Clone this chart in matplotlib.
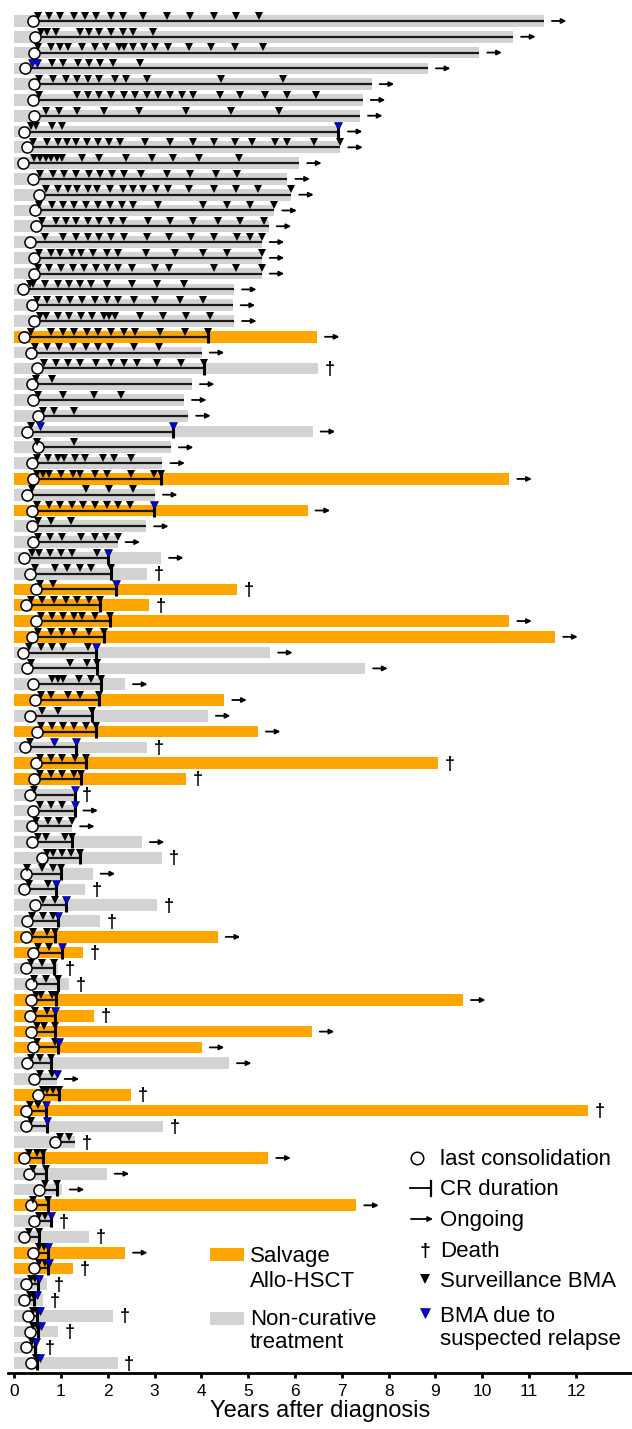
import matplotlib.pyplot as plt
from matplotlib.patches import Rectangle

plt.rcParams['font.family'] = ['Liberation Sans', 'DejaVu Sans']

# years after diagnosis at end of follow-up, one entry per patient (top to bottom)
follow_up = [11.32, 10.66, 9.94, 8.84, 7.64, 7.45, 7.39, 6.96, 6.97, 6.09,
             5.84, 5.92, 5.56, 5.44, 5.29, 5.29, 5.29, 4.70, 4.67, 4.70,
             6.47, 4.01, 6.50, 3.80, 3.63, 3.72, 6.38, 3.35, 3.17, 10.58,
             3.01, 6.27, 2.82, 2.21, 3.14, 2.84, 4.76, 2.88, 10.58, 11.56,
             5.47, 7.50, 2.37, 4.49, 4.14, 5.21, 2.84, 9.06, 3.67, 1.31,
             1.31, 1.24, 2.73, 3.16, 1.68, 1.52, 3.05, 1.84, 4.35, 1.47,
             0.93, 1.18, 9.59, 1.71, 6.36, 4.01, 4.59, 0.91, 2.50, 12.26,
             3.18, 1.30, 5.43, 1.98, 1.02, 7.31, 0.82, 1.60, 2.37, 1.25,
             0.70, 0.61, 2.11, 0.93, 0.52, 2.21]

# 1 = salvage allo-HSCT, 0 = non-curative treatment
salvage = [0] * 20 + [1] + [0] * 8 + [1, 0, 1] + [0] * 4 + [1, 1, 1, 1] + \
    [0, 0, 0, 1, 0, 1, 0, 1, 1] + [0] * 9 + [1, 1, 0, 0, 1, 1, 1, 1, 0, 0,
    1, 1, 0, 0, 1, 0, 0, 1, 0, 0, 1, 1] + [0] * 6

last_consolidation = [0.40, 0.45, 0.43, 0.23, 0.43, 0.41, 0.43, 0.21, 0.27, 0.20,
                      0.41, 0.54, 0.45, 0.47, 0.34, 0.43, 0.43, 0.18, 0.38, 0.43,
                      0.21, 0.36, 0.48, 0.39, 0.41, 0.51, 0.27, 0.51, 0.38, 0.40,
                      0.28, 0.39, 0.39, 0.40, 0.21, 0.34, 0.47, 0.25, 0.46, 0.38,
                      0.20, 0.27, 0.41, 0.45, 0.34, 0.48, 0.24, 0.46, 0.43, 0.33,
                      0.41, 0.38, 0.39, 0.59, 0.25, 0.22, 0.45, 0.28, 0.26, 0.41,
                      0.26, 0.36, 0.36, 0.34, 0.36, 0.41, 0.27, 0.43, 0.52, 0.25,
                      0.26, 0.88, 0.22, 0.32, 0.54, 0.36, 0.43, 0.21, 0.41, 0.43,
                      0.26, 0.21, 0.29, 0.33, 0.25, 0.36]

# relapse time (end of CR); None = CR ongoing at end of follow-up
relapse = [None] * 7 + [6.93] + [None] * 12 + [4.15, None, 4.06, None, None,
           None, 3.40, None, None, 3.14, None, 2.99, None, None, 2.00, 2.07,
           2.18, 1.84, 2.04, 1.93, 1.75, 1.77, 1.86, 1.82, 1.67, 1.75, 1.32,
           1.54, 1.42, 1.30, 1.30, None, 1.23, 1.41, 1.01, 0.90, 1.11, 0.93,
           0.88, 1.02, 0.85, 0.93, 0.90, 0.87, 0.88, 0.93, 0.78, None, 0.96,
           0.68, 0.70, None, 0.61, 0.68, 0.91, 0.72, 0.78, 0.54, 0.72, 0.73,
           0.52, 0.43, 0.50, 0.51, 0.45, 0.50]

# o = ongoing, d = death
outcome = ('o' * 22 + 'd' + 'o' * 12 + 'ddd' + 'o' * 8 + 'dddd' + 'ooo' + 'd' +
           'o' + 'ddd' + 'o' + 'ddd' + 'o' + 'd' + 'oooo' + 'dddd' + 'oooo' +
           'dd' + 'o' + 'ddddddd')

surveillance_bma = [
    [0.51, 0.75, 0.99, 1.28, 1.52, 1.76, 2.06, 2.32, 2.75, 3.26, 3.76, 4.27, 4.73, 5.23],
    [0.57, 0.70, 0.90, 1.40, 1.59, 1.82, 2.07, 2.32, 2.55, 2.96],
    [0.52, 0.78, 0.98, 1.16, 1.45, 1.72, 1.97, 2.25, 2.34, 2.54, 2.78, 3.02, 3.28, 3.73, 4.20, 4.71, 5.31],
    [0.81, 1.05, 1.37, 1.61, 1.84, 2.12, 2.68],
    [0.54, 0.84, 1.10, 1.34, 1.57, 1.82, 2.16, 2.39, 2.84, 4.41, 5.74],
    [0.54, 1.35, 1.57, 1.82, 2.07, 2.34, 2.59, 2.84, 3.08, 3.33, 3.58, 3.83, 4.39, 4.83, 5.35, 5.84, 6.45],
    [0.68, 0.95, 1.34, 1.92, 2.66, 3.67, 4.63, 5.66],
    [0.36, 0.46, 0.81, 1.02],
    [0.41, 0.70, 0.93, 1.13, 1.32, 1.55, 1.79, 2.02, 2.26, 2.80, 3.33, 3.82, 4.26, 4.72, 5.09, 5.58, 5.84, 6.40, 6.97],
    [0.43, 0.56, 0.68, 0.79, 0.91, 1.03, 1.45, 1.82, 2.39, 2.94, 3.40, 3.95, 4.81],
    [0.56, 0.83, 1.07, 1.32, 1.59, 1.84, 2.10, 2.35, 2.71, 3.26, 3.76, 4.32, 4.77],
    [0.68, 0.93, 1.15, 1.35, 1.57, 1.78, 2.04, 2.32, 2.53, 2.75, 3.03, 3.28, 3.74, 4.26, 4.74, 5.22, 5.92],
    [0.54, 0.81, 1.05, 1.29, 1.54, 1.79, 2.05, 2.30, 2.55, 3.07, 4.04, 4.54, 5.04, 5.56],
    [0.59, 0.89, 1.10, 1.32, 1.57, 1.82, 2.07, 2.32, 2.86, 3.32, 3.83, 4.35, 4.83, 5.33],
    [0.65, 1.05, 1.32, 1.57, 1.82, 2.07, 2.34, 2.84, 3.31, 3.78, 4.28, 4.77, 5.03, 5.29],
    [0.54, 0.78, 0.98, 1.23, 1.43, 1.68, 1.98, 2.23, 2.81, 3.44, 4.04, 4.54, 5.29],
    [0.52, 0.75, 1.00, 1.25, 1.50, 1.75, 1.99, 2.23, 2.51, 3.00, 3.30, 4.26, 4.74, 5.29],
    [0.33, 0.41, 0.65, 0.93, 1.18, 1.41, 1.65, 1.98, 2.51, 3.05, 3.64],
    [0.48, 0.71, 0.95, 1.20, 1.45, 1.73, 1.98, 2.23, 2.56, 3.01, 3.55, 4.03],
    [0.56, 0.68, 0.93, 1.18, 1.42, 1.67, 1.92, 2.02, 2.16, 2.69, 3.18, 3.68, 4.19],
    [0.36, 0.78, 1.04, 1.28, 1.55, 1.80, 2.07, 2.34, 2.59, 3.12, 3.65, 4.15],
    [0.45, 0.70, 0.95, 1.25, 1.53, 1.80, 2.05, 2.56, 3.09],
    [0.63, 0.89, 1.15, 1.40, 1.75, 2.07, 2.35, 2.62, 3.06, 3.57, 4.06],
    [0.47, 0.81],
    [0.51, 1.05, 1.71, 2.28],
    [0.61, 0.85, 1.27],
    [0.36],
    [0.50, 1.27],
    [0.48, 0.72, 0.93, 1.07, 1.31, 1.52, 1.89, 2.14, 2.50],
    [0.48, 0.61, 0.75, 1.00, 1.25, 1.41, 1.73, 1.99, 2.50, 2.99, 3.14],
    [0.39, 1.53, 2.02, 2.54],
    [0.48, 0.74, 0.98, 1.23, 1.48, 1.73, 1.98, 2.23, 2.48],
    [0.52, 0.78, 1.22],
    [0.51, 0.77, 1.02, 1.44, 1.73, 1.97, 2.21],
    [0.38, 0.54, 0.77, 1.00, 1.24, 1.77],
    [0.45, 0.88, 1.14, 1.41, 1.64, 2.07],
    [0.56, 0.83],
    [0.36, 0.60, 0.85, 1.10, 1.35, 1.60, 1.84],
    [0.58, 0.81, 1.05, 1.28, 1.46, 1.72, 2.04],
    [0.51, 0.78, 1.03, 1.28, 1.59, 1.93],
    [0.32, 0.57, 0.82, 1.05, 1.57],
    [0.36, 1.20, 1.55, 1.77],
    [0.82, 0.93, 1.05, 1.39, 1.64, 1.86],
    [0.58, 0.79, 1.16, 1.40, 1.82],
    [0.59, 0.93, 1.67],
    [0.58, 0.81, 1.04, 1.28, 1.53, 1.75],
    [0.33],
    [0.56, 0.78, 1.03, 1.30, 1.54],
    [0.56, 0.78, 1.03, 1.28, 1.42],
    [0.43],
    [0.55, 0.79, 1.02],
    [0.47, 0.73, 0.97, 1.23],
    [0.52, 0.68, 1.09, 1.23],
    [0.70, 0.84, 1.02, 1.22, 1.41],
    [0.28, 0.59, 0.84, 1.01],
    [0.31, 0.73],
    [0.61, 0.88],
    [0.38, 0.61, 0.83],
    [0.41, 0.70, 0.88],
    [0.52, 0.75],
    [0.36, 0.60, 0.85],
    [0.43, 0.68, 0.93],
    [0.47, 0.57, 0.81, 0.90],
    [0.45, 0.70],
    [0.48, 0.63, 0.88],
    [0.48, 0.88],
    [0.36, 0.56, 0.78],
    [0.56, 0.81],
    [0.61, 0.70, 0.83, 0.96],
    [0.33, 0.52],
    [0.36],
    [0.98, 1.18],
    [0.31, 0.48, 0.61],
    [0.41, 0.68],
    [0.66, 0.91],
    [0.41, 0.72],
    [0.54, 0.66],
    [0.31, 0.54],
    [0.54, 0.64],
    [0.54, 0.66],
    [0.36, 0.45],
    [0.33, 0.41],
    [0.41, 0.50],
    [0.41, 0.50],
    [0.38],
    [0.47],
]

# BMA due to suspected relapse, keyed by patient row (1-based)
suspected_bma = {4: [0.38, 0.48], 8: [6.93], 27: [0.56, 3.40], 32: [2.99],
                 35: [2.00], 37: [2.18], 41: [1.75], 47: [0.85, 1.32],
                 50: [1.30], 51: [1.30], 56: [0.90], 57: [1.11], 58: [0.93],
                 60: [1.02], 64: [0.87], 66: [0.95], 68: [0.91], 70: [0.68],
                 71: [0.70], 77: [0.78], 79: [0.73], 80: [0.75], 81: [0.54],
                 82: [0.48], 83: [0.56], 84: [0.57], 85: [0.47], 86: [0.56]}

ORANGE = '#ffa500'
GREY = '#d3d3d3'
BLUE = '#0000ee'
W, H = 632, 1429

fig = plt.figure(figsize=(W / 100, H / 100), dpi=100)
ax = fig.add_axes([8 / W, 1 - 1372.7 / H, 1 - 8 / W, (1372.7 - 11.5) / H])

n = len(follow_up)
rows = list(range(1, n + 1))
ax.barh(rows, follow_up, height=0.74, left=0,
        color=[ORANGE if s else GREY for s in salvage], zorder=1)

for i, y in enumerate(rows):
    cr_end = relapse[i] if relapse[i] is not None else follow_up[i]
    ax.plot([last_consolidation[i], cr_end], [y, y], color='#1a1a1a', lw=1.6,
            solid_capstyle='butt', zorder=2)
    if relapse[i] is not None:
        ax.plot([relapse[i], relapse[i]], [y - 0.42, y + 0.4], color='black',
                lw=2.2, solid_capstyle='butt', zorder=3)
    ax.plot(surveillance_bma[i], [y - 0.33] * len(surveillance_bma[i]), 'v',
            color='black', ms=6.2, mew=0, zorder=5)
    if y in suspected_bma:
        ax.plot(suspected_bma[y], [y - 0.33] * len(suspected_bma[y]), 'v',
                color=BLUE, mec='black', mew=0.4, ms=6.2, zorder=6)
    ax.plot(last_consolidation[i], y, 'o', mfc='white', mec='black', mew=1.1,
            ms=8, zorder=4)
    end = follow_up[i]
    if outcome[i] == 'o':
        ax.annotate('', xy=(end + 0.48, y), xytext=(end + 0.17, y),
                    arrowprops=dict(arrowstyle='-|>', color='black', lw=1.3,
                                    mutation_scale=7, shrinkA=0, shrinkB=0))
    else:
        ax.text(end + 0.25, y + 0.06, '\u2020', ha='center', va='center',
                fontsize=13, fontweight='bold')

ax.set_xlim(-0.13, 13.2)
ax.set_ylim(86.6, 0.4)
ax.set_yticks([])
ax.set_xticks(range(13))
ax.tick_params(axis='x', length=3.5, width=2, labelsize=12.5, pad=4.5)
for side in ['left', 'top', 'right']:
    ax.spines[side].set_visible(False)
ax.spines['bottom'].set_linewidth(2)
ax.set_xlabel('Years after diagnosis', fontsize=17, labelpad=1)

# legends drawn in pixel coordinates on an overlay
lg = fig.add_axes([0, 0, 1, 1])
lg.set_xlim(0, W)
lg.set_ylim(H, 0)
lg.axis('off')
lg.patch.set_alpha(0)

fs = 16
tx = 440
lg.plot(417, 1158, 'o', mfc='white', mec='black', mew=1.1, ms=9)
lg.text(tx, 1165, 'last consolidation', fontsize=fs, va='baseline')
lg.plot([410, 431], [1188, 1188], color='black', lw=1.3)
lg.plot([431, 431], [1181, 1196], color='black', lw=1.6)
lg.text(tx, 1195, 'CR duration', fontsize=fs, va='baseline')
lg.annotate('', xy=(433, 1219), xytext=(411, 1219),
            arrowprops=dict(arrowstyle='-|>', color='black', lw=1.3,
                            mutation_scale=7, shrinkA=0, shrinkB=0))
lg.text(tx, 1226, 'Ongoing', fontsize=fs, va='baseline')
lg.text(425, 1251, '\u2020', fontsize=14, fontweight='bold', ha='center', va='center')
lg.text(tx, 1257, 'Death', fontsize=fs, va='baseline')
lg.plot(425, 1279, 'v', color='black', ms=7.5, mew=0)
lg.text(tx, 1287, 'Surveillance BMA', fontsize=fs, va='baseline')
lg.plot(425, 1313, 'v', color=BLUE, mec='black', mew=0.4, ms=7.5)
lg.text(tx, 1322, 'BMA due to', fontsize=fs, va='baseline')
lg.text(tx, 1345, 'suspected relapse', fontsize=fs, va='baseline')

lg.add_patch(Rectangle((210, 1248), 34, 13, color=ORANGE, lw=0))
lg.text(250, 1262, 'Salvage', fontsize=fs, va='baseline')
lg.text(250, 1287, 'Allo-HSCT', fontsize=fs, va='baseline')
lg.add_patch(Rectangle((210, 1312), 34, 13, color=GREY, lw=0))
lg.text(250, 1325, 'Non-curative', fontsize=fs, va='baseline')
lg.text(250, 1348, 'treatment', fontsize=fs, va='baseline')

fig.savefig('out.png', dpi=100)
